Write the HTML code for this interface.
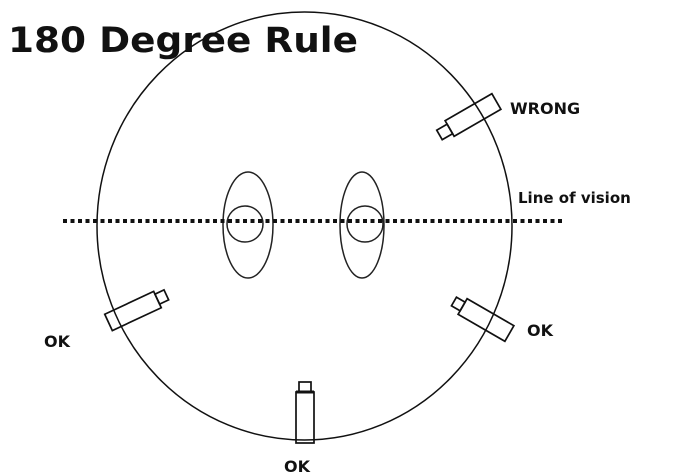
<!DOCTYPE html>
<html><head><meta charset="utf-8"><style>
html,body{margin:0;padding:0;background:#fff;width:675px;height:474px;overflow:hidden}
svg{display:block}
text{font-family:"DejaVu Sans","Liberation Sans",sans-serif;font-weight:bold;fill:#111}
</style></head><body>
<svg width="675" height="474" viewBox="0 0 675 474">
<ellipse cx="304.5" cy="226" rx="207.5" ry="214" fill="none" stroke="#111" stroke-width="1.5"/>
<ellipse cx="248" cy="225" rx="25" ry="53" fill="none" stroke="#222" stroke-width="1.5"/>
<circle cx="245" cy="224" r="18" fill="none" stroke="#222" stroke-width="1.5"/>
<ellipse cx="362" cy="225" rx="22" ry="53" fill="none" stroke="#222" stroke-width="1.5"/>
<circle cx="365" cy="224" r="18" fill="none" stroke="#222" stroke-width="1.5"/>
<line x1="63" y1="221" x2="562" y2="221" stroke="#111" stroke-width="4" stroke-dasharray="4 3.5"/>
<g fill="none" stroke="#111" stroke-width="1.7">
<g transform="translate(473,115) rotate(-30)"><rect x="-27" y="-9" width="54" height="18"/><rect x="-39" y="-5" width="12" height="11"/></g>
<g transform="translate(133,311) rotate(-25)"><rect x="-27" y="-9" width="54" height="18"/><rect x="27" y="-6" width="10" height="11"/></g>
<g transform="translate(486,320) rotate(30)"><rect x="-27" y="-9" width="54" height="18"/><rect x="-37" y="-5" width="10" height="10"/></g>
<rect x="296" y="392" width="18" height="51"/><rect x="299" y="382" width="12" height="10"/>
<line x1="296" y1="392" x2="314" y2="392" stroke-width="3"/>
</g>
<text x="8" y="52" font-size="35" textLength="350" lengthAdjust="spacingAndGlyphs">180 Degree Rule</text>
<text x="510" y="114" font-size="16">WRONG</text>
<text x="518" y="203" font-size="15">Line of vision</text>
<text x="44" y="347" font-size="16">OK</text>
<text x="527" y="336" font-size="16">OK</text>
<text x="284" y="472" font-size="16">OK</text>
</svg>
</body></html>
